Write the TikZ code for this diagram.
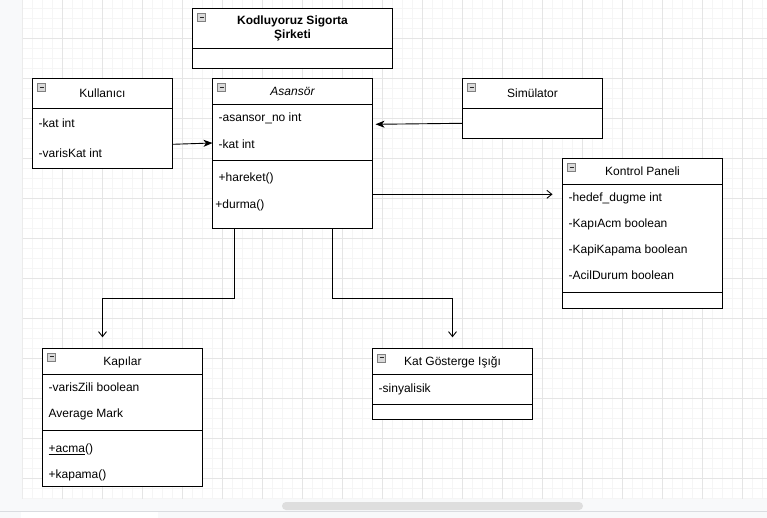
\documentclass[tikz,border=0pt]{standalone}
\usepackage{fontspec}
\setmainfont{Liberation Sans}
\usetikzlibrary{arrows.meta,calc,positioning}
\tikzset{>=latex}
\definecolor{pane}{HTML}{F8F9FA}
\definecolor{paneline}{HTML}{DADCE0}
\newcommand{\umlfont}{\fontsize{12}{14}\selectfont}

\begin{document}
\begin{tikzpicture}[x=1pt, y=-1pt, font=\umlfont,
		head/.style={draw, fill=white, line width=1pt, anchor=north west, minimum width=#1, inner sep=0, outer sep=0},
		oneline/.style={text height=10.6pt, text depth=2pt},
		part/.style={draw, fill=white, line width=1pt, minimum width=#1, inner sep=0, outer sep=0},
		attr/.style={anchor=base west, inner sep=0},
		tog/.style={draw=black!50, fill=black!15, minimum size=8pt, inner sep=0, line width=0.6pt,
			path picture={\draw[black!85, line width=1.2pt] ([xshift=2pt]path picture bounding box.west) -- ([xshift=-2pt]path picture bounding box.east);}},
		fillarrow/.style={-{Stealth[length=9pt,width=7pt,inset=2.5pt]}, line width=0.9pt},
		openarrow/.style={-{Straight Barb[length=5pt,width=8pt]}, line width=0.9pt},
		gridminor/.style={black!4, line width=0.8pt},
		gridmajor/.style={black!10, line width=0.8pt}]
		\useasboundingbox (0,0) rectangle (767,518);

		% canvas and grid
		\fill[pane] (0,0) rectangle (767,518);
		\fill[white] (21.7,0) rectangle (767,498.7);
		\foreach \x in {0,...,74} \draw[gridminor] ({22.7+10*\x},0) -- ({22.7+10*\x},498.7);
		\foreach \y in {1,...,50} \draw[gridminor] (21.7,{-1.7+10*\y}) -- (767,{-1.7+10*\y});
		\foreach \x in {0,...,18} \draw[gridmajor] ({22.7+40*\x},0) -- ({22.7+40*\x},498.7);
		\foreach \y in {0,...,11} \draw[gridmajor] (21.7,{38.3+40*\y}) -- (767,{38.3+40*\y});
		\draw[black!8] (21.7,0) -- (21.7,498.7);
		\fill[black!13, rounded corners=4pt] (282,502) rectangle (583,510);
		\draw[paneline] (0,511.5) -- (767,511.5);
		\fill[white] (20.7,512) rectangle (158.3,518);

		% title
		\node[head=200pt, minimum height=40pt, align=center, font=\umlfont\bfseries] (firma) at (192.5,8.3) {Kodluyoruz Sigorta\\Şirketi};
		\node[part=200pt, minimum height=20pt, below=0pt of firma] (firma-b) {};
		\node[tog] (firma-t) at ([shift={(9,9.5)}]firma.north west) {};

		% Kullanıcı
		\node[head=140pt, oneline, minimum height=30pt] (kul) at (32.5,78.3) {Kullanıcı};
		\node[part=140pt, minimum height=60pt, below=0pt of kul] (kul-b) {};
		\node[tog] (kul-t) at ([shift={(9,9.5)}]kul.north west) {};
		\node[attr] (kul-a1) at ([shift={(6,19.5)}]kul-b.north west) {-kat int};
		\node[attr] (kul-a2) at ([shift={(6,49.5)}]kul-b.north west) {-varisKat int};

		% Asansör
		\node[head=160pt, oneline, minimum height=26pt, font=\umlfont\itshape] (asn) at (212.5,78.3) {Asansör};
		\node[part=160pt, minimum height=56pt, below=0pt of asn] (asn-a) {};
		\node[part=160pt, minimum height=68pt, below=0pt of asn-a] (asn-m) {};
		\node[tog] (asn-t) at ([shift={(9,9.5)}]asn.north west) {};
		\node[attr] (asn-a1) at ([shift={(6,17.5)}]asn-a.north west) {-asansor\_no int};
		\node[attr] (asn-a2) at ([shift={(6,44)}]asn-a.north west) {-kat int};
		\node[attr] (asn-m1) at ([shift={(6,21.5)}]asn-m.north west) {+hareket()};
		\node[attr] (asn-m2) at ([shift={(2.7,48.5)}]asn-m.north west) {+durma()};

		% Simülator
		\node[head=140pt, oneline, minimum height=30pt] (sim) at (462.5,78.3) {Simülator};
		\node[part=140pt, minimum height=30pt, below=0pt of sim] (sim-b) {};
		\node[tog] (sim-t) at ([shift={(9,9.5)}]sim.north west) {};

		% Kontrol Paneli
		\node[head=160pt, oneline, minimum height=26pt] (kp) at (562.5,158.3) {Kontrol Paneli};
		\node[part=160pt, minimum height=108pt, below=0pt of kp] (kp-a) {};
		\node[part=160pt, minimum height=16pt, below=0pt of kp-a] (kp-m) {};
		\node[tog] (kp-t) at ([shift={(9,9.5)}]kp.north west) {};
		\foreach \t [count=\i] in {-hedef\_dugme int, -KapıAcm boolean, -KapiKapama boolean, -AcilDurum boolean}
			\node[attr] (kp-a\i) at ([shift={(6,{-8.5+26*\i})}]kp-a.north west) {\t};

		% Kapılar
		\node[head=160pt, oneline, minimum height=26pt] (kap) at (42.5,348.3) {Kapılar};
		\node[part=160pt, minimum height=56pt, below=0pt of kap] (kap-a) {};
		\node[part=160pt, minimum height=56pt, below=0pt of kap-a] (kap-m) {};
		\node[tog] (kap-t) at ([shift={(9,8.5)}]kap.north west) {};
		\node[attr] (kap-a1) at ([shift={(6,17.5)}]kap-a.north west) {-varisZili boolean};
		\node[attr] (kap-a2) at ([shift={(6,43.5)}]kap-a.north west) {Average Mark};
		\node[attr] (kap-m1) at ([shift={(6,22)}]kap-m.north west) {\underline{+acma}()};
		\node[attr] (kap-m2) at ([shift={(6,48)}]kap-m.north west) {+kapama()};

		% Kat Gösterge Işığı
		\node[head=160pt, oneline, minimum height=26pt] (isik) at (372.5,348.3) {Kat Gösterge Işığı};
		\node[part=160pt, minimum height=30pt, below=0pt of isik] (isik-a) {};
		\node[part=160pt, minimum height=15pt, below=0pt of isik-a] (isik-m) {};
		\node[tog] (isik-t) at ([shift={(9,9.5)}]isik.north west) {};
		\node[attr] (isik-a1) at ([shift={(6,18.3)}]isik-a.north west) {-sinyalisik};

		% connectors
		\draw[fillarrow] ([yshift=-6pt]kul-b.east) -- ([yshift=-10.7pt]asn-a.west);
		\draw[fillarrow] (sim-b.west) -- ([xshift=3pt,yshift=8pt]asn-a.east);
		\coordinate (kp-in) at ($(kp-a.west |- asn-m.east)+(-10,0)$);
		\draw[openarrow] (asn-m.east) -- (kp-in);
		\coordinate (kap-in) at ($(kap.north)+(-20,-11)$);
		\draw[openarrow] ([xshift=-58pt]asn-m.south) -- ++(0,70) -| (kap-in);
		\coordinate (isik-in) at ($(isik.north)+(0,-11)$);
		\draw[openarrow] ([xshift=40pt]asn-m.south) -- ++(0,70) -| (isik-in);
\end{tikzpicture}
\end{document}
